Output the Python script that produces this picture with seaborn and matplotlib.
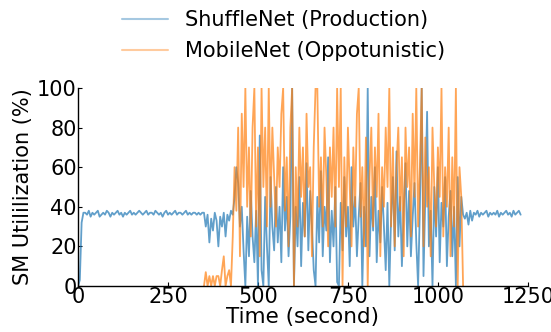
import numpy as np
import pandas as pd
import matplotlib
matplotlib.use("Agg")
import matplotlib.pyplot as plt
import seaborn as sns

STEP = 5  # seconds between samples

# ShuffleNet (production) SM utilization, sampled every 5 s from t=0
shuffle_warmup = [0, 3, 32, 37]
shuffle_alone = [37, 36, 38, 35, 37, 36, 37, 38, 35, 36, 37, 36, 38, 37, 35, 37,
                 36, 37, 38, 36, 37, 35, 37, 36, 37, 38, 36, 37, 36, 37, 38, 37,
                 36, 37, 38, 36, 37, 37, 36, 38, 37, 36, 37, 35, 37, 38, 36, 37,
                 36, 37, 38, 36, 37, 37, 36, 37, 38, 36, 37, 36, 37, 37, 36, 37,
                 36, 37]
shuffle_disturbed = [37, 30, 36, 22, 34, 28, 37, 33, 20, 35, 30, 37, 25, 36, 33, 38]
shuffle_shared = [36, 45, 60, 52, 30, 40, 18, 0, 35, 15, 48, 25, 12, 38, 0, 76,
                  8, 0, 45, 20, 0, 55, 30, 18, 50, 22, 40, 12, 60, 28, 45, 15,
                  35, 100, 0, 40, 20, 55, 10, 42, 25, 62, 18, 48, 30, 8, 0, 45,
                  22, 58, 15, 40, 28, 65, 12, 38, 20, 50, 2, 0, 42, 18, 55, 25,
                  40, 10, 60, 30, 45, 15, 35, 52, 0, 40, 20, 100, 15, 45, 28, 60,
                  12, 38, 22, 50, 30, 8, 42, 0, 35, 55, 18, 68, 25, 45, 10, 38,
                  62, 20, 48, 15, 35, 52, 22, 0, 40, 100, 5, 45, 88, 20, 38, 0,
                  50, 25, 60, 12, 42, 30, 55, 10, 35, 48, 15, 40, 0, 55, 20, 45,
                  36]
shuffle_after = [34, 37, 31, 38, 33, 37, 36, 38, 35, 37, 36, 37, 38, 35, 37, 36,
                 37, 36, 38, 35, 37, 36, 37, 38, 36, 37, 35, 38, 36, 37, 38, 36]

# MobileNet (opportunistic) SM utilization, sampled every 5 s from t=350
mobile_start = 350
mobile_ramp = [0, 7, 0, 5, 0, 5, 0, 5, 5, 0, 8, 15, 0, 5, 8, 0]
mobile_shared = [25, 60, 38, 80, 15, 87, 50, 100, 40, 70, 25, 80, 100, 30, 70, 15,
                 100, 50, 80, 30, 100, 40, 80, 55, 30, 70, 50, 87, 100, 38, 65, 20,
                 80, 100, 0, 60, 30, 80, 45, 70, 25, 87, 50, 60, 15, 70, 100, 100,
                 40, 65, 30, 80, 55, 20, 70, 45, 80, 30, 100, 50, 100, 0, 65, 30,
                 80, 50, 20, 70, 40, 87, 100, 35, 60, 20, 75, 0, 55, 80, 30, 70,
                 45, 87, 15, 60, 40, 80, 50, 100, 30, 70, 20, 60, 80, 38, 65, 15,
                 80, 50, 70, 25, 87, 45, 100, 30, 60, 100, 20, 75, 40, 60, 15, 80,
                 50, 30, 70, 45, 100, 25, 60, 40, 80, 15, 65, 30, 100, 0, 60, 45,
                 0]

labels = ["ShuffleNet (Production)", "MobileNet (Oppotunistic)"]

shuffle = shuffle_warmup + shuffle_alone + shuffle_disturbed + shuffle_shared + shuffle_after
mobile = mobile_ramp + mobile_shared

df = pd.concat([
    pd.DataFrame({"time": np.arange(len(shuffle)) * STEP, "util": shuffle, "model": labels[0]}),
    pd.DataFrame({"time": mobile_start + np.arange(len(mobile)) * STEP, "util": mobile, "model": labels[1]}),
])

sns.set_style("white")
plt.rcParams["font.family"] = ["DejaVu Sans"]
plt.rcParams["text.color"] = "black"
plt.rcParams["axes.labelcolor"] = "black"
plt.rcParams["xtick.color"] = "black"
plt.rcParams["ytick.color"] = "black"

fig = plt.figure(figsize=(5.51, 3.32), dpi=100)
ax = fig.add_axes([0.1416, 0.1386, 0.8164, 0.5964])

palette = {labels[0]: "#1f77b4", labels[1]: "#ff7f0e"}
sns.lineplot(data=df, x="time", y="util", hue="model", palette=palette,
             linewidth=1.3, alpha=0.7, estimator=None, ax=ax, legend=False)

ax.set_xlim(0, 1250)
ax.set_ylim(0, 100)
ax.set_xticks([0, 250, 500, 750, 1000, 1250])
ax.set_yticks([0, 20, 40, 60, 80, 100])
ax.set_xlabel("Time (second)", fontsize=15.5, labelpad=0)
ax.set_ylabel("SM Utililization (%)", fontsize=15, labelpad=3)
ax.tick_params(direction="in", length=3, width=0.8, labelsize=15, pad=1,
               bottom=True, left=True)
sns.despine(ax=ax)
for side in ["left", "bottom"]:
    ax.spines[side].set_color("black")
    ax.spines[side].set_linewidth(1.0)

handles = [plt.Line2D([], [], color=palette[l], alpha=0.4, linewidth=1.5) for l in labels]
fig.legend(handles, labels, loc="upper center", bbox_to_anchor=(0.515, 1.0),
           frameon=False, fontsize=15, handlelength=2.2, handletextpad=0.8,
           labelspacing=0.5, borderaxespad=0.1)

fig.savefig("out.png", dpi=100)
